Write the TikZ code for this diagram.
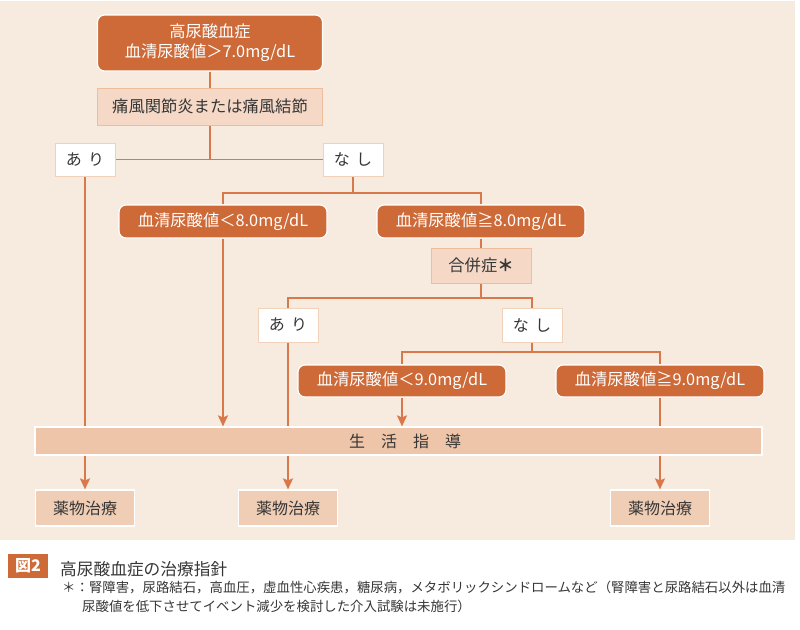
\documentclass[tikz,border=0pt]{standalone}
\usepackage{fontspec}
\setmainfont{Noto Sans CJK JP}
\usetikzlibrary{arrows.meta}
\definecolor{bgcream}{HTML}{F7EBE0}
\definecolor{boxorange}{HTML}{CD6A38}
\definecolor{lineorange}{HTML}{D9794B}
\definecolor{lightfill}{HTML}{F5D9C6}
\definecolor{lightedge}{HTML}{EDBD9E}
\definecolor{barfill}{HTML}{EEC5A8}
\definecolor{medfill}{HTML}{F0CDB5}
\definecolor{txtgray}{HTML}{363636}
\tikzset{
  darkbox/.style={draw=white, line width=1.2pt, fill=boxorange, rounded corners=7pt,
    text=white, inner sep=0pt, align=center, minimum width=208pt, minimum height=33pt,
    font=\fontsize{16.3}{20}\selectfont},
  lightbox/.style={draw=lightedge, line width=1pt, fill=lightfill, text=txtgray,
    inner sep=0pt, font=\fontsize{16.3}{20}\selectfont},
  answer/.style={draw=lightedge!70, line width=1pt, fill=white, text=txtgray,
    inner sep=0pt, minimum width=60pt, minimum height=33pt, font=\fontsize{16}{20}\selectfont},
  barbox/.style={draw=white, line width=1.2pt, fill=barfill, text=txtgray, inner sep=0pt,
    minimum width=727pt, minimum height=28pt, font=\fontsize{16}{20}\selectfont},
  medbox/.style={draw=white, line width=1.2pt, fill=medfill, text=txtgray, inner sep=0pt,
    minimum width=99pt, minimum height=36pt, font=\fontsize{16}{20}\selectfont},
  conn/.style={draw=lineorange, line width=1.9pt},
  arr/.style={conn, -{Stealth[length=11pt,width=10pt,inset=2pt]}},
}
\begin{document}
\begin{tikzpicture}[x=1pt,y=-1pt]
  \useasboundingbox (0,0) rectangle (800,629);
  \fill[bgcream] (0,1) rectangle (795,540);
  % flow chart
  \node[darkbox, minimum width=225pt, minimum height=56pt] (top) at (210,43) {高尿酸血症\\血清尿酸値＞7.0mg/dL};
  \node[lightbox, minimum width=225pt, minimum height=37pt] (gout) at (210,106.5) {痛風関節炎または痛風結節};
  \node[answer] (ari1) at (85,159.5) {あ\hspace{.4em}り};
  \node[answer] (nashi1) at (353,159.5) {な\hspace{.4em}し};
  \node[darkbox] (lt8) at (223,221.5) {血清尿酸値＜8.0mg/dL};
  \node[darkbox] (ge8) at (481,221.5) {血清尿酸値≧8.0mg/dL};
  \node[lightbox, minimum width=100pt, minimum height=35pt] (comp) at (481,265.5) {合併症\textbf{＊}};
  \node[answer, minimum height=34pt] (ari2) at (288,325) {あ\hspace{.4em}り};
  \node[answer, minimum height=34pt] (nashi2) at (532,325) {な\hspace{.4em}し};
  \node[darkbox, minimum height=32pt] (lt9) at (402,381) {血清尿酸値＜9.0mg/dL};
  \node[darkbox, minimum height=32pt] (ge9) at (660,381) {血清尿酸値≧9.0mg/dL};
  \node[barbox] (guide) at (398.5,441) {\hspace{13pt}生　活　指　導};
  \node[medbox] (med1) at (85,508) {薬物治療};
  \node[medbox] (med2) at (288,508) {薬物治療};
  \node[medbox] (med3) at (660,508) {薬物治療};
  \coordinate (split1) at (353,193);
  \coordinate (split2) at (481,298);
  \coordinate (split3) at (532,352);
  \draw[conn] (top) -- (gout);
  \draw[conn] (gout) -- (gout |- ari1);
  \draw[conn] (ari1) -- (nashi1);
  \draw[conn] (nashi1) -- (split1);
  \draw[conn] (lt8) |- (split1) -| (ge8);
  \draw[conn] (ge8) -- (comp);
  \draw[conn] (comp) -- (split2);
  \draw[conn] (ari2) |- (split2) -| (nashi2);
  \draw[conn] (nashi2) -- (split3);
  \draw[conn] (lt9) |- (split3) -| (ge9);
  \draw[conn] (ari1) -- (ari1 |- guide.north);
  \draw[arr] (lt8) -- (lt8 |- guide.north);
  \draw[conn] (ari2) -- (ari2 |- guide.north);
  \draw[arr] (lt9) -- (lt9 |- guide.north);
  \draw[conn] (ge9) -- (ge9 |- guide.north);
  \draw[arr] (ari1 |- guide.south) -- (med1);
  \draw[arr] (ari2 |- guide.south) -- (med2);
  \draw[arr] (ge9 |- guide.south) -- (med3);
  % caption
  \node[fill=boxorange, text=white, inner sep=0pt, minimum width=40pt, minimum height=24pt,
    font=\fontsize{16}{20}\selectfont\bfseries] (tag) at (28,565.5) {図2};
  \node[anchor=west, inner sep=0pt, text=txtgray, font=\fontsize{16.7}{20}\selectfont] (title) at (60,569) {高尿酸血症の治療指針};
  \node[anchor=west, inner sep=0pt, text=txtgray, font=\fontsize{13.4}{16}\selectfont] (note1) at (62,587)
    {＊：腎障害，尿路結石，高血圧，虚血性心疾患，糖尿病，メタボリックシンドロームなど（腎障害と尿路結石以外は血清};
  \node[anchor=west, inner sep=0pt, text=txtgray, font=\fontsize{13.4}{16}\selectfont] (note2) at (82,606)
    {尿酸値を低下させてイベント減少を検討した介入試験は未施行）};
\end{tikzpicture}
\end{document}
